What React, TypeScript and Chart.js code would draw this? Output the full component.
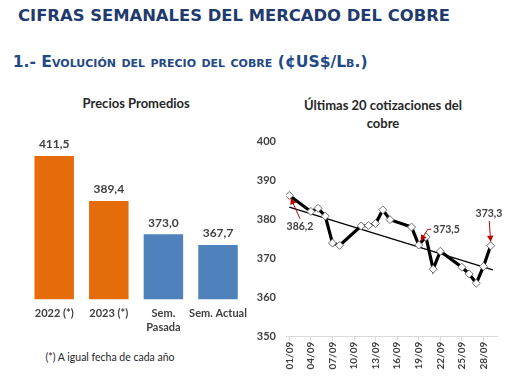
import React, { useEffect, useRef } from "react";
import { Chart, registerables } from "chart.js";
Chart.register(...registerables);

// ---- Data: left chart (Precios Promedios) ----
const barCategories: (string | string[])[] = ["2022 (*)", "2023 (*)", ["Sem.", "Pasada"], "Sem. Actual"];
const barValues = [411.5, 389.4, 373.0, 367.7];

// ---- Data: right chart (Últimas 20 cotizaciones) ----
const quoteDays = [1, 4, 5, 6, 7, 8, 11, 12, 13, 14, 15, 18, 19, 20, 21, 22, 25, 26, 27, 28, 29];
const quoteValues = [386.2, 382.1, 382.9, 380.9, 374.0, 373.4, 378.4, 378.5, 379.0, 382.5, 380.0, 378.1, 373.5, 375.6, 367.3, 371.9, 367.8, 366.1, 363.7, 368.0, 373.3];
const trendDays = [1, 29.3];
const trendValues = [383.2, 367.1];
const xTickDays = [1, 4, 7, 10, 13, 16, 19, 22, 25, 28];
const xTickLabels = ["01/09", "04/09", "07/09", "10/09", "13/09", "16/09", "19/09", "22/09", "25/09", "28/09"];
const labeledDays = [1, 19, 29];

const fmt = (v: number) => v.toFixed(1).replace(".", ",");
const FONT = "Lato, 'Open Sans', sans-serif";
const TXT = "#404040";
const ORANGE = "#E46C0A";
const BLUE = "#4F81BD";
const RED = "#C00000";

function BarChart() {
  const ref = useRef<HTMLCanvasElement>(null);
  useEffect(() => {
    const labelPlugin = {
      id: "barLabels",
      afterDatasetsDraw(chart: any) {
        const ctx = chart.ctx;
        const meta = chart.getDatasetMeta(0);
        ctx.save();
        ctx.font = `bold 12px ${FONT}`;
        ctx.fillStyle = TXT;
        ctx.textAlign = "center";
        ctx.textBaseline = "middle";
        meta.data.forEach((el: any, i: number) => {
          ctx.fillText(fmt(barValues[i]), el.x, el.y - 11.5);
        });
        ctx.restore();
      },
    };
    const chart = new Chart(ref.current!, {
      type: "bar",
      data: {
        labels: barCategories as any,
        datasets: [
          {
            data: barValues,
            backgroundColor: [ORANGE, ORANGE, BLUE, BLUE],
            borderWidth: 0,
            barPercentage: 0.723,
            categoryPercentage: 1,
          },
        ],
      },
      options: {
        responsive: false,
        animation: false,
        events: [],
        layout: { padding: { left: 26.9, right: 9.5, top: 48.7, bottom: 0 } },
        plugins: { legend: { display: false }, tooltip: { enabled: false }, title: { display: false } },
        scales: {
          x: {
            grid: { display: false, drawTicks: false },
            border: { display: false },
            ticks: {
              color: TXT,
              font: { family: FONT, size: 11, weight: "bold", lineHeight: 1.3 },
              padding: 6.9,
              maxRotation: 0,
              autoSkip: false,
            },
            afterFit: (s: any) => {
              s.height = 45.7;
            },
          },
          y: { display: false, min: 341, max: 420 },
        },
      },
      plugins: [labelPlugin],
    });
    return () => chart.destroy();
  }, []);
  return (
    <canvas
      ref={ref}
      width={255}
      height={255}
      style={{ position: "absolute", left: 0, top: 90, width: 255, height: 255 }}
    />
  );
}

function LineChart() {
  const ref = useRef<HTMLCanvasElement>(null);
  useEffect(() => {
    const annot = [
      { tx: 10.7, ty: 31.3, align: "center", path: [[10.7, 23.3], [1.5, 2.8]] },
      { tx: 14.3, ty: -15.7, align: "left", path: [[12.5, -15.7], [9, -15.7], [2, -4]] },
      { tx: -1.7, ty: -32, align: "center", path: [[-1.4, -24.7], [0, -4]] },
    ];
    const annotPlugin = {
      id: "annots",
      afterDatasetsDraw(chart: any) {
        const ctx = chart.ctx;
        const xs = chart.scales.x;
        const ys = chart.scales.y;
        ctx.save();
        labeledDays.forEach((d, k) => {
          const i = quoteDays.indexOf(d);
          const px = xs.getPixelForValue(d);
          const py = ys.getPixelForValue(quoteValues[i]);
          const a = annot[k];
          ctx.strokeStyle = RED;
          ctx.lineWidth = 1;
          ctx.beginPath();
          a.path.forEach((p, j) => {
            const x = px + p[0];
            const y = py + p[1];
            if (j === 0) ctx.moveTo(x, y);
            else ctx.lineTo(x, y);
          });
          ctx.stroke();
          const n = a.path.length;
          const ex = px + a.path[n - 1][0];
          const ey = py + a.path[n - 1][1];
          const sx = px + a.path[n - 2][0];
          const sy = py + a.path[n - 2][1];
          const ang = Math.atan2(ey - sy, ex - sx);
          const L = 6, W = 3.2;
          ctx.fillStyle = RED;
          ctx.beginPath();
          ctx.moveTo(ex, ey);
          ctx.lineTo(ex - L * Math.cos(ang) + W * Math.sin(ang), ey - L * Math.sin(ang) - W * Math.cos(ang));
          ctx.lineTo(ex - L * Math.cos(ang) - W * Math.sin(ang), ey - L * Math.sin(ang) + W * Math.cos(ang));
          ctx.closePath();
          ctx.fill();
          ctx.font = `bold 10.5px ${FONT}`;
          ctx.fillStyle = TXT;
          ctx.textAlign = a.align;
          ctx.textBaseline = "middle";
          ctx.fillText(fmt(quoteValues[i]), px + a.tx, py + a.ty);
        });
        ctx.restore();
      },
    };
    const chart = new Chart(ref.current!, {
      type: "line",
      data: {
        datasets: [
          {
            data: quoteDays.map((d, i) => ({ x: d, y: quoteValues[i] })),
            borderColor: "#000000",
            borderWidth: 3.2,
            pointStyle: "rectRot",
            pointRadius: 4,
            pointBackgroundColor: "#FFFFFF",
            pointBorderColor: "#6F6F6F",
            pointBorderWidth: 1,
            tension: 0,
            order: 1,
          },
          {
            data: trendDays.map((d, i) => ({ x: d, y: trendValues[i] })),
            borderColor: "#000000",
            borderWidth: 1.3,
            pointRadius: 0,
            tension: 0,
            order: 2,
          },
        ],
      },
      options: {
        responsive: false,
        animation: false,
        events: [],
        layout: { padding: { left: 0, right: 13, top: 11.7, bottom: 0 } },
        plugins: { legend: { display: false }, tooltip: { enabled: false }, title: { display: false } },
        scales: {
          x: {
            type: "linear",
            min: 0.54,
            max: 29.88,
            afterBuildTicks: (axis: any) => {
              axis.ticks = xTickDays.map((v) => ({ value: v }));
            },
            grid: { display: true, drawOnChartArea: false, drawTicks: true, tickLength: 4, color: "#D9D9D9" },
            border: { display: true, color: "#D9D9D9", width: 1 },
            ticks: {
              color: TXT,
              font: { family: FONT, size: 10, weight: "bold" },
              padding: 1,
              minRotation: 90,
              maxRotation: 90,
              autoSkip: false,
              callback: (v: any) => {
                const k = xTickDays.indexOf(Number(v));
                return k >= 0 ? xTickLabels[k] : "";
              },
            },
            afterFit: (s: any) => {
              s.height = 45.3;
            },
          },
          y: {
            min: 350,
            max: 400,
            grid: { display: false, drawTicks: false },
            border: { display: false },
            ticks: {
              stepSize: 10,
              color: TXT,
              font: { family: FONT, size: 11, weight: "bold" },
              padding: 10,
            },
            afterFit: (s: any) => {
              s.width = 36;
            },
          },
        },
      },
      plugins: [annotPlugin],
    });
    return () => chart.destroy();
  }, []);
  return (
    <canvas
      ref={ref}
      width={260}
      height={257}
      style={{ position: "absolute", left: 250, top: 125, width: 260, height: 257 }}
    />
  );
}

export default function App() {
  return (
    <div
      style={{
        position: "absolute",
        left: 0,
        top: 0,
        width: 510,
        height: 382,
        background: "#FFFFFF",
        overflow: "hidden",
      }}
    >
      <div
        style={{
          position: "absolute",
          left: 18,
          top: 7.7,
          fontFamily: "'DejaVu Sans', Verdana, sans-serif",
          fontWeight: "bold",
          fontSize: 16.4,
          lineHeight: "16.4px",
          color: "#1F3A6E",
          whiteSpace: "nowrap",
        }}
      >
        CIFRAS SEMANALES DEL MERCADO DEL COBRE
      </div>
      <div
        style={{
          position: "absolute",
          left: 12.7,
          top: 54.5,
          fontFamily: "'DejaVu Sans', Verdana, sans-serif",
          fontWeight: "bold",
          fontSize: 15.6,
          lineHeight: "15.6px",
          fontVariant: "small-caps",
          color: "#1F4A85",
          whiteSpace: "nowrap",
        }}
      >
        1.- Evolución del precio del cobre (¢US$/Lb.)
      </div>
      <div
        style={{
          position: "absolute",
          left: 26.9,
          width: 218.6,
          top: 95.8,
          textAlign: "center",
          fontFamily: FONT,
          fontWeight: "bold",
          fontSize: 13,
          lineHeight: "15.6px",
          color: "#262626",
        }}
      >
        Precios Promedios
      </div>
      <div
        style={{
          position: "absolute",
          left: 280,
          width: 206,
          top: 95.6,
          textAlign: "center",
          fontFamily: FONT,
          fontWeight: "bold",
          fontSize: 13,
          lineHeight: "18px",
          color: "#262626",
        }}
      >
        Últimas 20 cotizaciones del
        <br />
        cobre
      </div>
      <BarChart />
      <LineChart />
      <div
        style={{
          position: "absolute",
          left: 10,
          width: 200,
          top: 350,
          textAlign: "center",
          fontFamily: FONT,
          fontSize: 10.5,
          lineHeight: "15px",
          color: "#262626",
        }}
      >
        (*) A igual fecha de cada año
      </div>
    </div>
  );
}
